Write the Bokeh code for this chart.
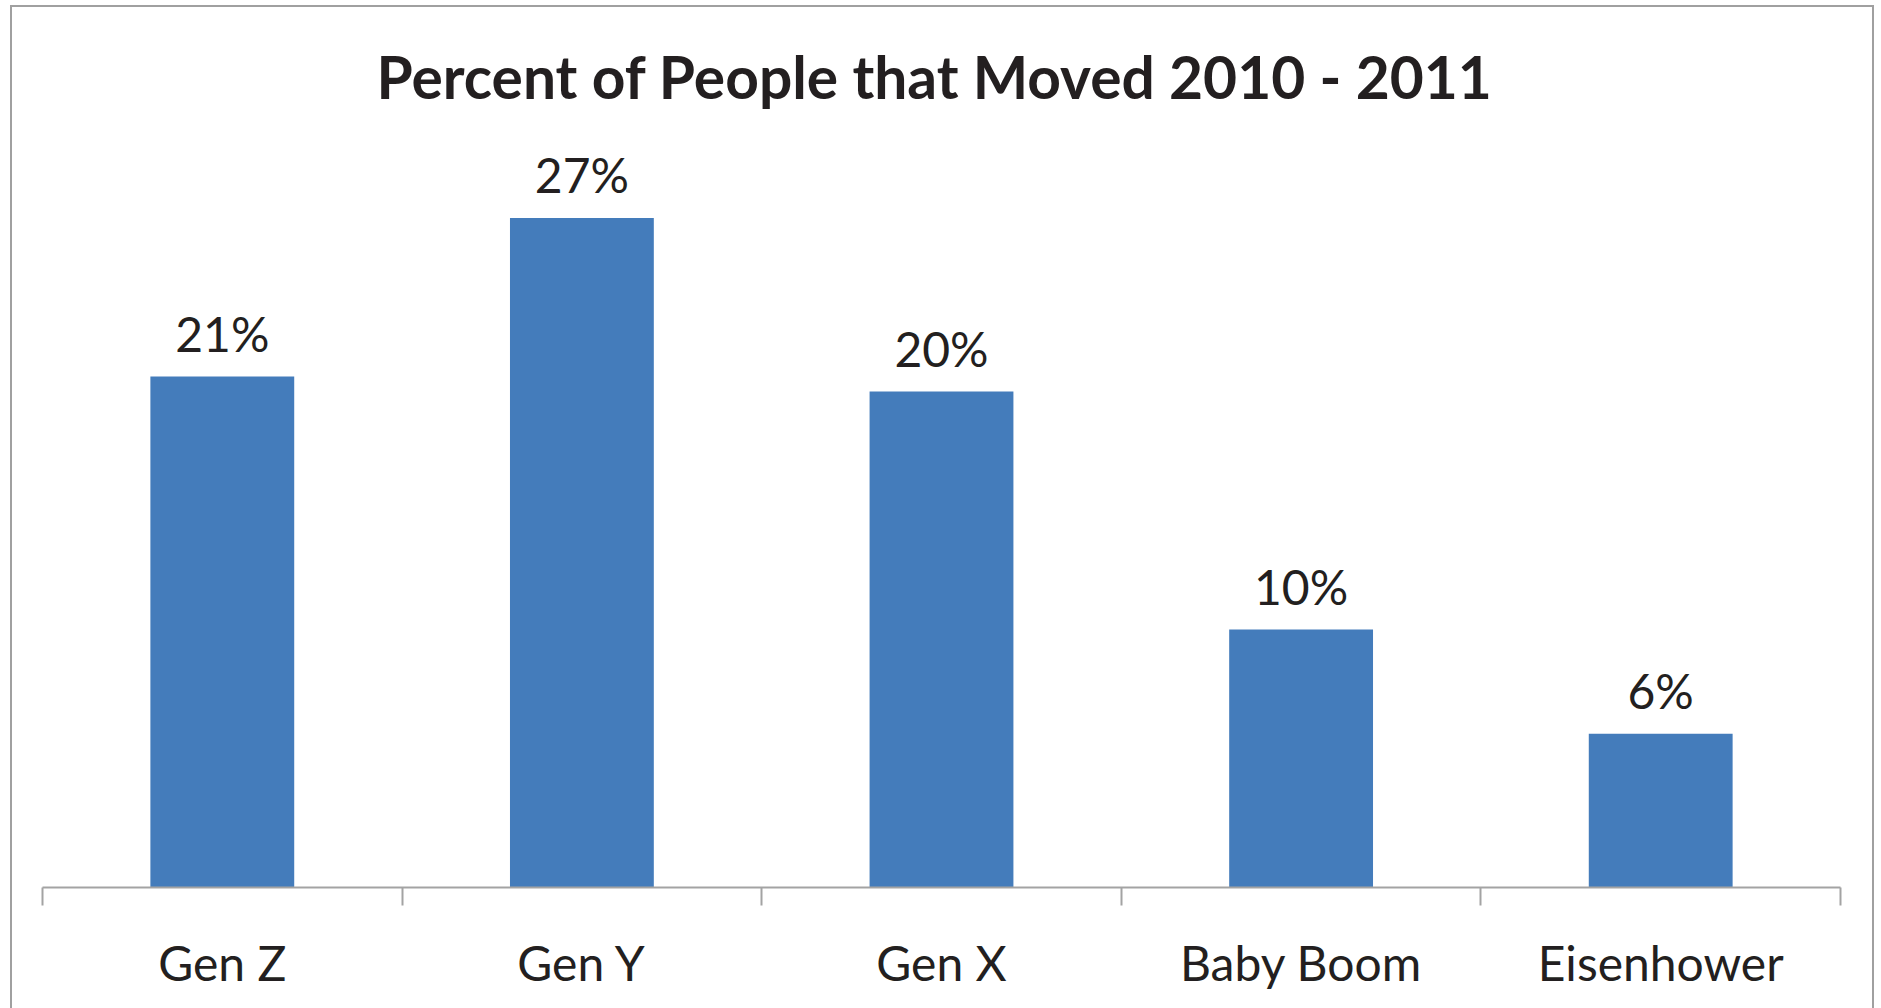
from bokeh.plotting import figure
from bokeh.models import ColumnDataSource, Range1d, FixedTicker, LabelSet
from bokeh.core.properties import value
from bokeh.embed import file_html
from bokeh.resources import INLINE

# ---- data ----
categories = ["Gen Z", "Gen Y", "Gen X", "Baby Boom", "Eisenhower"]
percent_moved = [20.6, 27.0, 20.0, 10.4, 6.2]
value_labels = ["21%", "27%", "20%", "10%", "6%"]
title_text = "Percent of People that Moved 2010 - 2011"

BAR_COLOR = "#447cbb"
TEXT_COLOR = "#231f20"
AXIS_COLOR = "#a3a3a3"
FONT = "Lato"

W, H = 1881, 1008

positions = [i + 0.5 for i in range(len(categories))]
source = ColumnDataSource(dict(x=positions, top=percent_moved, label=value_labels))

p = figure(width=W, height=H, output_backend="svg", toolbar_location=None,
           x_range=Range1d(0, len(categories)), y_range=Range1d(0, 30),
           min_border_left=42, min_border_right=41, min_border_top=143, min_border_bottom=121)

p.title.text = title_text
p.title.text_font = FONT
p.title.text_font_size = "58.7px"
p.title.text_font_style = "bold"
p.title.text_color = TEXT_COLOR
p.title.align = "left"
p.title.offset = 334
p.title.standoff = 64

p.vbar(x="x", top="top", bottom=0, width=0.4, source=source,
       fill_color=BAR_COLOR, line_color=None)

labels = LabelSet(x="x", y="top", text="label", source=source,
                  text_align="center", text_baseline="alphabetic", y_offset=25,
                  text_font=value(FONT), text_font_size=value("48px"),
                  text_color=TEXT_COLOR)
p.add_layout(labels)

p.xgrid.visible = False
p.ygrid.visible = False
p.yaxis.visible = False
p.outline_line_color = None

xa = p.xaxis[0]
xa.ticker = FixedTicker(ticks=positions, minor_ticks=list(range(len(categories) + 1)))
xa.major_label_overrides = {pos: cat for pos, cat in zip(positions, categories)}
xa.major_tick_out = 0
xa.major_tick_in = 0
xa.minor_tick_out = 18
xa.minor_tick_in = 0
xa.minor_tick_line_color = AXIS_COLOR
xa.minor_tick_line_width = 2
xa.axis_line_color = AXIS_COLOR
xa.axis_line_width = 2
xa.major_label_text_font = FONT
xa.major_label_text_font_size = "48px"
xa.major_label_text_color = TEXT_COLOR
xa.major_label_standoff = 28

# chart-area border (as in the original spreadsheet chart)
p.stylesheets = [
    ":host { position: relative; }"
    ":host::after { content: ''; position: absolute; left: 10px; top: 5px; "
    "right: 7px; bottom: -20px; border: 2px solid #a0a0a0; pointer-events: none; }"
]

open("out.html", "w").write(file_html(p, INLINE))
